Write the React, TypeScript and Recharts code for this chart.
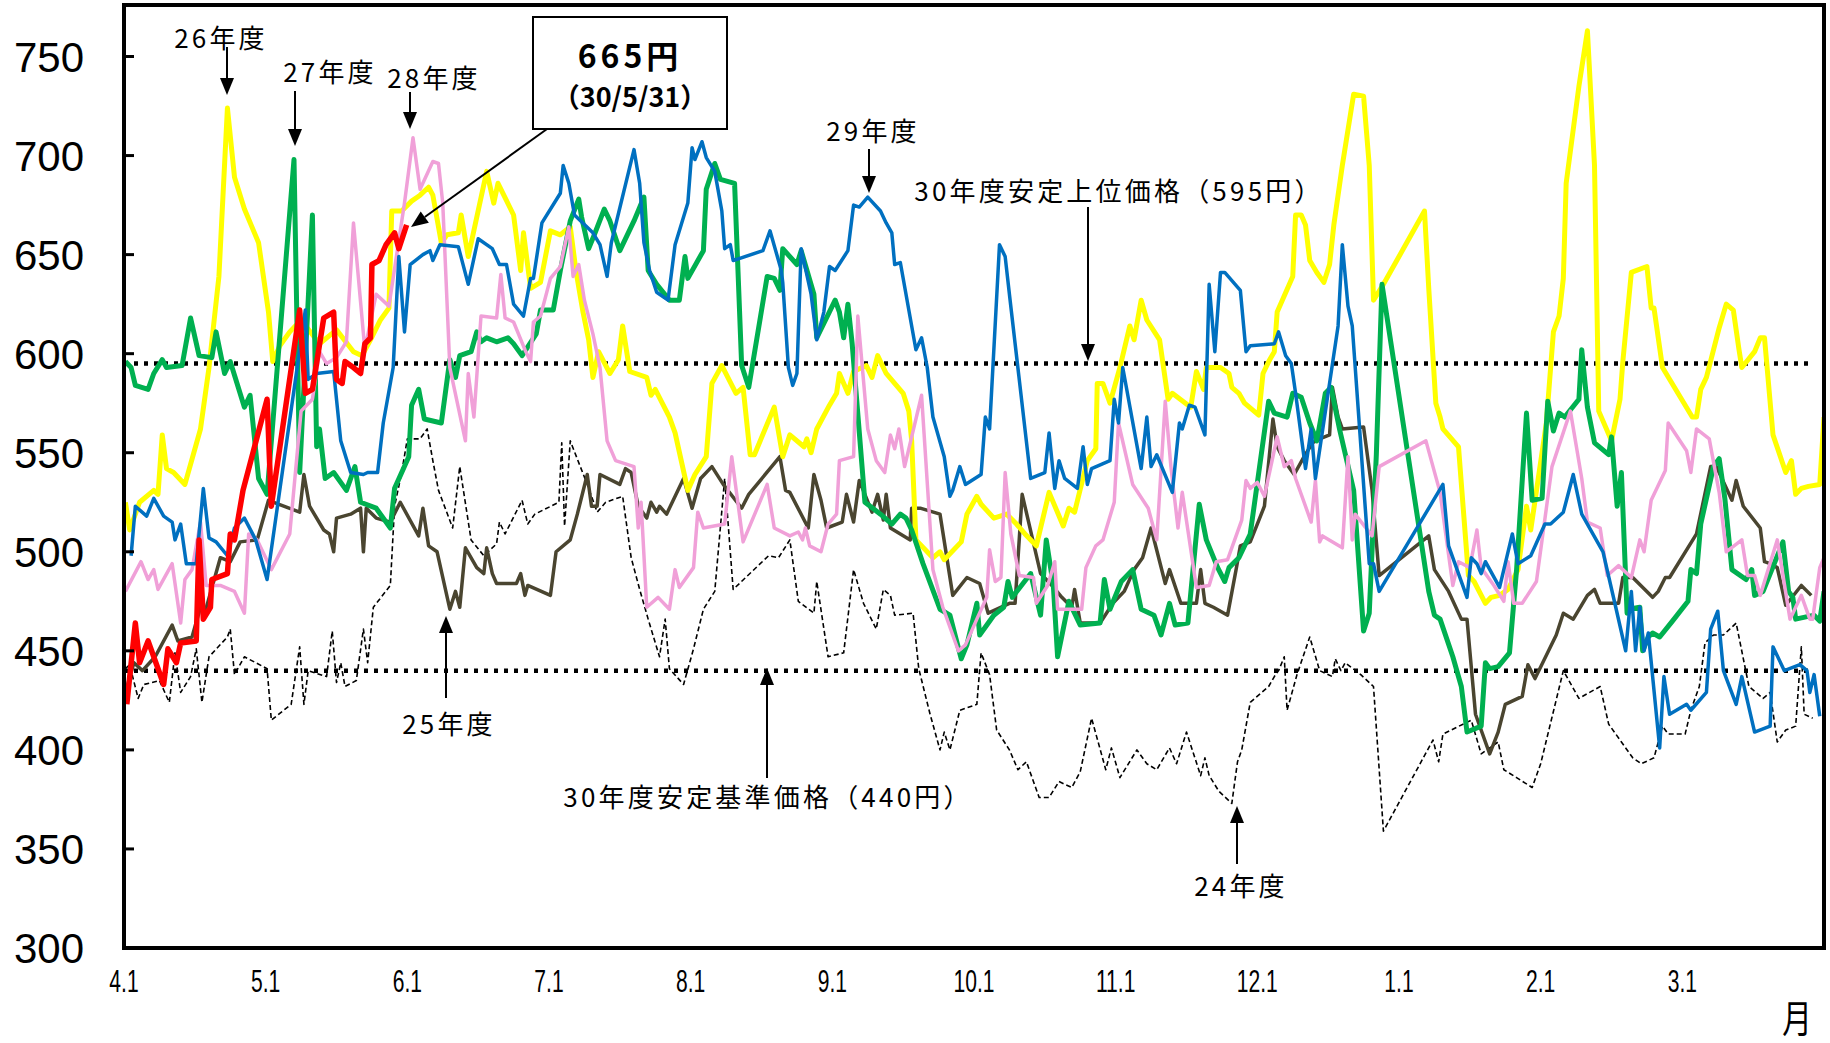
import { LineChart, Line, XAxis, YAxis, ReferenceLine } from "recharts";

// x = months elapsed since 4/1 (0..12), y = price (円)
const MONTH_LABELS = ["4.1", "5.1", "6.1", "7.1", "8.1", "9.1", "10.1", "11.1", "12.1", "1.1", "2.1", "3.1"];
const MONTH_TICKS = [0, 1, 2, 3, 4, 5, 6, 7, 8, 9, 10, 11];
const Y_TICKS = [300, 350, 400, 450, 500, 550, 600, 650, 700, 750];
const UPPER_PRICE = 595;
const BASE_PRICE = 440;

const fy24 = [[0.01,441],[0.04,443],[0.10,426],[0.14,433],[0.25,435],[0.32,424],[0.36,449],[0.40,429],[0.47,437],[0.51,451],[0.55,424],[0.60,447],[0.73,457],[0.75,461],[0.78,438],[0.85,447],[1.01,441],[1.04,415],[1.18,423],[1.24,452],[1.27,423],[1.30,440],[1.43,437],[1.47,460],[1.50,434],[1.53,444],[1.56,432],[1.64,435],[1.69,461],[1.72,444],[1.76,472],[1.88,483],[1.91,523],[1.96,540],[2.00,557],[2.09,557],[2.14,562],[2.18,546],[2.22,531],[2.32,512],[2.37,543],[2.45,506],[2.54,498],[2.63,504],[2.65,515],[2.69,509],[2.81,526],[2.85,514],[2.90,519],[3.07,525],[3.09,555],[3.11,513],[3.15,556],[3.27,534],[3.34,520],[3.40,525],[3.52,528],[3.58,497],[3.64,481],[3.70,466],[3.78,447],[3.82,466],[3.85,441],[3.95,433],[4.02,451],[4.09,471],[4.17,480],[4.24,537],[4.30,481],[4.55,498],[4.62,497],[4.70,506],[4.76,475],[4.87,469],[4.89,485],[4.97,447],[5.08,449],[5.15,491],[5.22,474],[5.31,461],[5.36,481],[5.41,478],[5.44,468],[5.57,469],[5.61,441],[5.69,418],[5.76,400],[5.79,409],[5.83,400],[5.90,420],[6.02,423],[6.05,449],[6.11,438],[6.16,410],[6.25,400],[6.31,390],[6.37,394],[6.46,376],[6.53,376],[6.60,384],[6.69,381],[6.75,389],[6.83,416],[6.93,390],[6.97,401],[7.03,386],[7.15,400],[7.22,393],[7.29,390],[7.38,401],[7.43,393],[7.50,409],[7.60,387],[7.63,396],[7.66,387],[7.73,379],[7.82,373],[7.86,394],[7.89,400],[7.95,424],[8.08,432],[8.12,437],[8.15,440],[8.19,447],[8.21,420],[8.28,438],[8.37,457],[8.44,440],[8.53,437],[8.55,446],[8.59,440],[8.62,444],[8.73,438],[8.82,432],[8.89,359],[9.24,405],[9.28,394],[9.31,408],[9.51,415],[9.58,398],[9.70,404],[9.74,390],[9.83,386],[9.94,381],[10.00,393],[10.16,440],[10.27,426],[10.42,432],[10.48,413],[10.57,404],[10.65,396],[10.71,393],[10.80,396],[10.86,412],[10.90,408],[11.02,408],[11.06,420],[11.12,432],[11.16,454],[11.22,458],[11.29,458],[11.38,464],[11.47,432],[11.57,426],[11.62,429],[11.67,404],[11.73,410],[11.80,412],[11.84,452],[11.86,418],[11.92,416]];

const fy25 = [[0.01,429],[0.07,444],[0.13,440],[0.22,447],[0.34,463],[0.38,455],[0.48,457],[0.54,472],[0.57,469],[0.68,497],[0.75,495],[0.82,505],[0.94,506],[1.02,526],[1.24,520],[1.27,539],[1.31,523],[1.41,511],[1.45,509],[1.48,500],[1.50,517],[1.60,519],[1.67,522],[1.69,500],[1.71,522],[1.78,517],[1.88,515],[1.95,525],[2.08,508],[2.11,522],[2.15,503],[2.21,500],[2.30,471],[2.34,480],[2.37,472],[2.41,502],[2.49,492],[2.54,489],[2.56,502],[2.60,489],[2.63,484],[2.77,484],[2.80,489],[2.83,478],[2.85,483],[3.01,478],[3.05,500],[3.15,506],[3.20,519],[3.27,539],[3.30,523],[3.34,523],[3.36,539],[3.50,534],[3.54,542],[3.58,540],[3.63,523],[3.69,517],[3.72,525],[3.76,520],[3.78,523],[3.83,519],[3.95,537],[4.01,522],[4.07,537],[4.15,543],[4.23,534],[4.36,522],[4.41,529],[4.63,548],[4.67,531],[4.70,530],[4.83,512],[4.87,539],[4.92,526],[4.96,512],[5.07,515],[5.10,529],[5.15,515],[5.19,536],[5.28,520],[5.32,529],[5.36,516],[5.38,529],[5.41,512],[5.55,506],[5.56,522],[5.62,522],[5.76,519],[5.85,478],[5.95,487],[6.04,484],[6.10,469],[6.25,474],[6.29,474],[6.34,529],[6.47,489],[6.55,483],[6.62,477],[6.69,472],[6.71,481],[6.75,464],[6.89,464],[6.98,474],[7.06,480],[7.13,491],[7.19,497],[7.25,512],[7.35,484],[7.38,491],[7.46,474],[7.57,474],[7.60,491],[7.63,474],[7.69,472],[7.79,468],[7.85,491],[7.88,503],[7.95,505],[8.05,523],[8.11,567],[8.14,553],[8.19,546],[8.26,539],[8.33,548],[8.39,555],[8.44,557],[8.51,559],[8.53,583],[8.57,568],[8.60,562],[8.75,563],[8.81,531],[8.86,488],[9.21,508],[9.25,491],[9.35,480],[9.44,466],[9.48,466],[9.54,418],[9.64,398],[9.70,409],[9.75,423],[9.87,427],[9.91,443],[9.96,436],[10.11,458],[10.16,469],[10.23,466],[10.33,478],[10.38,481],[10.42,474],[10.55,474],[10.58,487],[10.65,487],[10.79,477],[10.83,480],[10.88,487],[10.91,487],[11.10,509],[11.20,543],[11.24,543],[11.35,526],[11.38,536],[11.43,523],[11.55,512],[11.58,495],[11.62,494],[11.67,492],[11.73,473],[11.84,483],[11.91,478]];

const fy26 = [[0.01,525],[0.04,511],[0.11,525],[0.21,531],[0.24,529],[0.27,559],[0.30,542],[0.35,540],[0.43,534],[0.54,562],[0.60,593],[0.67,639],[0.73,724],[0.78,689],[0.85,673],[0.95,656],[1.02,621],[1.05,596],[1.10,604],[1.17,611],[1.25,617],[1.38,605],[1.50,612],[1.62,601],[1.68,599],[1.74,607],[1.81,617],[1.87,623],[1.89,672],[1.96,672],[2.03,677],[2.09,680],[2.15,684],[2.18,680],[2.24,656],[2.28,660],[2.36,661],[2.38,670],[2.43,649],[2.56,692],[2.61,676],[2.64,686],[2.75,670],[2.80,642],[2.82,661],[2.87,633],[2.94,636],[3.01,662],[3.08,660],[3.15,664],[3.19,642],[3.24,621],[3.28,607],[3.31,588],[3.35,601],[3.43,590],[3.49,597],[3.52,614],[3.57,591],[3.69,588],[3.72,579],[3.75,582],[3.85,568],[3.89,560],[3.98,531],[4.03,539],[4.11,548],[4.15,585],[4.22,594],[4.32,580],[4.37,583],[4.42,549],[4.45,549],[4.59,573],[4.65,548],[4.70,559],[4.80,553],[4.82,557],[4.85,550],[4.89,562],[4.98,574],[5.03,580],[5.05,590],[5.11,580],[5.15,591],[5.24,594],[5.28,588],[5.32,599],[5.38,590],[5.50,580],[5.54,571],[5.56,556],[5.59,506],[5.71,497],[5.76,500],[5.79,496],[5.91,505],[5.95,519],[6.02,528],[6.05,524],[6.14,517],[6.23,519],[6.30,514],[6.36,509],[6.44,503],[6.53,530],[6.63,513],[6.67,522],[6.71,520],[6.80,546],[6.86,552],[6.87,585],[6.91,585],[6.96,575],[7.03,593],[7.10,614],[7.13,607],[7.18,627],[7.22,617],[7.31,607],[7.37,577],[7.40,580],[7.53,573],[7.57,591],[7.62,582],[7.64,593],[7.74,593],[7.80,590],[7.82,583],[7.87,580],[7.91,575],[8.01,569],[8.04,590],[8.08,596],[8.12,601],[8.14,621],[8.25,639],[8.27,670],[8.31,670],[8.34,665],[8.37,647],[8.42,641],[8.47,636],[8.51,645],[8.54,665],[8.60,695],[8.68,731],[8.75,730],[8.79,695],[8.82,627],[8.89,635],[9.18,672],[9.21,633],[9.26,575],[9.29,568],[9.31,562],[9.42,553],[9.49,488],[9.53,485],[9.61,474],[9.65,477],[9.71,478],[9.77,481],[9.84,491],[9.90,523],[9.93,511],[10.04,565],[10.09,611],[10.13,619],[10.16,638],[10.18,686],[10.27,735],[10.33,763],[10.38,695],[10.41,571],[10.50,556],[10.56,577],[10.58,596],[10.64,641],[10.75,644],[10.78,623],[10.80,623],[10.86,593],[11.07,568],[11.10,568],[11.13,582],[11.17,588],[11.26,613],[11.31,625],[11.36,622],[11.40,602],[11.42,593],[11.51,601],[11.55,608],[11.58,608],[11.64,559],[11.73,540],[11.77,546],[11.80,529],[11.84,532],[11.89,533],[11.97,534],[12.00,568]];

const fy27 = [[0.01,596],[0.05,593],[0.08,584],[0.17,582],[0.21,590],[0.27,597],[0.30,593],[0.41,594],[0.47,618],[0.53,599],[0.62,598],[0.65,611],[0.71,590],[0.75,596],[0.85,573],[0.89,579],[0.95,537],[1.01,529],[1.20,698],[1.24,540],[1.33,670],[1.36,553],[1.38,562],[1.42,537],[1.48,540],[1.57,531],[1.63,543],[1.67,525],[1.78,522],[1.88,512],[1.91,532],[2.01,548],[2.03,574],[2.08,582],[2.12,567],[2.24,565],[2.30,597],[2.34,588],[2.37,599],[2.45,601],[2.49,611],[2.52,606],[2.56,608],[2.63,606],[2.71,608],[2.75,605],[2.81,599],[2.91,610],[2.94,622],[3.03,622],[3.08,642],[3.15,667],[3.21,678],[3.23,669],[3.28,653],[3.32,660],[3.39,673],[3.43,667],[3.50,652],[3.60,667],[3.67,679],[3.70,642],[3.76,635],[3.85,627],[3.92,627],[3.96,649],[3.98,638],[4.09,652],[4.11,683],[4.17,696],[4.21,688],[4.31,686],[4.36,594],[4.41,583],[4.54,639],[4.59,638],[4.63,632],[4.65,653],[4.75,645],[4.78,652],[4.87,630],[4.89,608],[5.02,627],[5.05,621],[5.08,608],[5.11,625],[5.14,605],[5.23,525],[5.34,519],[5.42,514],[5.48,519],[5.52,517],[5.56,511],[5.64,494],[5.76,471],[5.83,468],[5.91,446],[5.95,453],[6.02,474],[6.04,458],[6.14,468],[6.21,472],[6.24,485],[6.27,477],[6.40,489],[6.47,468],[6.51,506],[6.56,483],[6.59,447],[6.67,475],[6.75,463],[6.89,464],[6.92,486],[6.96,471],[7.04,485],[7.12,491],[7.18,471],[7.27,468],[7.32,458],[7.38,474],[7.42,463],[7.51,464],[7.59,524],[7.64,506],[7.72,492],[7.77,485],[7.80,492],[7.87,497],[7.95,509],[8.08,576],[8.12,570],[8.21,568],[8.25,580],[8.31,578],[8.37,565],[8.42,556],[8.48,580],[8.52,583],[8.58,562],[8.68,531],[8.75,460],[8.79,469],[8.84,549],[8.88,635],[9.21,480],[9.25,468],[9.29,466],[9.38,447],[9.44,432],[9.48,409],[9.58,412],[9.61,444],[9.64,441],[9.70,442],[9.78,449],[9.83,491],[9.90,570],[9.94,526],[10.01,527],[10.05,576],[10.09,561],[10.13,570],[10.17,568],[10.27,577],[10.29,602],[10.33,573],[10.38,555],[10.48,549],[10.50,558],[10.54,523],[10.57,540],[10.61,469],[10.62,471],[10.70,472],[10.72,450],[10.76,457],[10.79,459],[10.84,457],[10.93,465],[11.04,475],[11.06,491],[11.10,489],[11.13,514],[11.22,543],[11.26,547],[11.30,527],[11.35,491],[11.45,486],[11.49,491],[11.51,478],[11.57,480],[11.71,505],[11.75,480],[11.78,477],[11.80,466],[11.93,468],[11.97,465],[12.00,480]];

const fy28 = [[0.01,480],[0.12,495],[0.17,486],[0.21,491],[0.24,481],[0.34,494],[0.40,464],[0.43,486],[0.48,491],[0.54,515],[0.58,483],[0.68,483],[0.78,480],[0.85,469],[0.88,509],[0.94,506],[1.04,491],[1.17,509],[1.25,571],[1.33,577],[1.38,601],[1.43,595],[1.50,598],[1.57,606],[1.62,666],[1.70,602],[1.78,630],[1.87,624],[1.98,676],[2.04,709],[2.09,683],[2.18,697],[2.22,696],[2.25,676],[2.30,593],[2.41,556],[2.43,590],[2.47,568],[2.52,619],[2.63,618],[2.66,640],[2.69,618],[2.75,616],[2.83,602],[2.87,596],[2.89,616],[2.94,619],[3.01,638],[3.08,644],[3.14,664],[3.17,639],[3.21,645],[3.25,627],[3.31,610],[3.36,593],[3.41,556],[3.47,546],[3.60,543],[3.63,512],[3.65,525],[3.69,472],[3.77,477],[3.85,471],[3.89,491],[3.92,482],[4.02,492],[4.05,520],[4.09,512],[4.24,514],[4.29,548],[4.37,505],[4.54,534],[4.59,512],[4.70,508],[4.76,510],[4.79,506],[4.81,512],[4.84,503],[4.92,500],[4.97,514],[5.03,519],[5.05,546],[5.15,548],[5.18,619],[5.25,562],[5.31,546],[5.37,540],[5.41,559],[5.44,552],[5.47,562],[5.51,543],[5.63,579],[5.71,491],[5.78,472],[5.89,450],[5.94,453],[6.02,466],[6.09,477],[6.11,501],[6.15,485],[6.19,487],[6.22,540],[6.26,509],[6.32,488],[6.42,487],[6.44,474],[6.52,483],[6.57,495],[6.59,471],[6.76,471],[6.79,492],[6.86,503],[6.91,506],[6.99,525],[7.02,565],[7.12,534],[7.23,522],[7.29,506],[7.35,576],[7.39,543],[7.44,512],[7.47,530],[7.57,482],[7.66,483],[7.71,495],[7.79,496],[7.89,516],[7.92,536],[7.95,532],[8.00,535],[8.05,528],[8.14,558],[8.19,543],[8.24,546],[8.27,537],[8.38,515],[8.41,536],[8.44,505],[8.46,508],[8.60,502],[8.64,548],[8.67,506],[8.69,519],[8.81,508],[8.86,543],[9.19,556],[9.29,530],[9.33,509],[9.38,483],[9.42,495],[9.50,492],[9.55,511],[9.58,492],[9.67,483],[9.74,475],[9.77,495],[9.81,474],[9.87,474],[9.97,485],[10.08,543],[10.21,571],[10.29,537],[10.33,515],[10.42,512],[10.47,488],[10.55,493],[10.64,487],[10.70,506],[10.73,500],[10.78,526],[10.88,541],[10.90,565],[11.03,551],[11.06,540],[11.10,562],[11.19,557],[11.26,530],[11.31,500],[11.42,506],[11.46,488],[11.51,488],[11.55,478],[11.67,506],[11.76,466],[11.80,472],[11.84,478],[11.90,466],[11.92,466],[11.97,492],[12.00,497]];

const fy29 = [[0.05,498],[0.08,523],[0.16,518],[0.21,527],[0.28,518],[0.34,515],[0.36,506],[0.40,514],[0.44,494],[0.51,494],[0.56,532],[0.60,507],[0.65,505],[0.73,498],[0.78,512],[0.85,517],[0.93,506],[1.01,486],[1.28,622],[1.30,587],[1.36,590],[1.48,591],[1.53,556],[1.60,540],[1.69,539],[1.72,540],[1.79,540],[1.83,565],[1.90,593],[1.94,649],[1.98,611],[2.02,645],[2.11,650],[2.16,652],[2.18,647],[2.23,655],[2.36,654],[2.43,635],[2.50,658],[2.60,653],[2.65,645],[2.70,645],[2.75,625],[2.82,619],[2.87,638],[2.89,638],[2.95,666],[3.08,681],[3.10,695],[3.14,686],[3.18,670],[3.31,661],[3.36,655],[3.41,639],[3.44,656],[3.60,703],[3.64,686],[3.67,656],[3.71,642],[3.76,631],[3.84,627],[3.89,655],[3.98,676],[4.01,704],[4.03,698],[4.08,707],[4.11,699],[4.17,692],[4.22,672],[4.24,653],[4.28,655],[4.30,647],[4.51,652],[4.56,662],[4.64,642],[4.65,636],[4.69,593],[4.72,584],[4.75,590],[4.78,653],[4.85,630],[4.89,607],[4.94,621],[4.98,644],[5.02,642],[5.11,652],[5.15,675],[5.19,674],[5.25,679],[5.34,672],[5.38,666],[5.42,661],[5.44,645],[5.48,646],[5.59,602],[5.63,608],[5.67,593],[5.71,568],[5.79,548],[5.83,528],[5.85,531],[5.90,543],[5.94,534],[6.05,539],[6.08,568],[6.11,562],[6.18,655],[6.22,649],[6.25,630],[6.40,537],[6.50,540],[6.53,560],[6.57,532],[6.60,546],[6.64,537],[6.73,532],[6.77,553],[6.80,534],[6.83,542],[6.96,546],[6.99,577],[7.02,565],[7.05,593],[7.18,542],[7.22,568],[7.25,543],[7.29,549],[7.40,530],[7.45,565],[7.47,562],[7.52,574],[7.56,573],[7.63,559],[7.66,635],[7.70,601],[7.74,641],[7.77,641],[7.88,632],[7.92,601],[7.95,604],[8.12,605],[8.15,611],[8.20,599],[8.24,595],[8.27,580],[8.34,542],[8.38,562],[8.41,537],[8.57,614],[8.60,655],[8.64,624],[8.67,614],[8.79,494],[8.82,494],[8.86,480],[9.31,534],[9.35,503],[9.48,477],[9.51,497],[9.55,494],[9.58,489],[9.61,495],[9.71,482],[9.80,509],[9.84,494],[9.93,498],[10.03,514],[10.07,514],[10.16,520],[10.23,539],[10.29,519],[10.44,500],[10.53,472],[10.60,450],[10.64,480],[10.67,450],[10.70,472],[10.73,450],[10.76,459],[10.84,401],[10.87,437],[10.91,418],[11.03,423],[11.06,420],[11.17,429],[11.20,461],[11.25,470],[11.29,440],[11.38,423],[11.42,437],[11.51,409],[11.62,412],[11.64,452],[11.72,440],[11.83,443],[11.88,440],[11.90,429],[11.93,438],[11.97,417]];

const fy30 = [[0.02,423],[0.08,464],[0.11,444],[0.17,455],[0.28,433],[0.31,451],[0.37,444],[0.40,454],[0.51,455],[0.53,506],[0.56,466],[0.61,472],[0.62,486],[0.73,489],[0.75,509],[0.78,506],[0.84,531],[1.01,577],[1.04,523],[1.24,622],[1.28,580],[1.33,582],[1.41,618],[1.48,621],[1.50,587],[1.54,585],[1.56,596],[1.62,593],[1.67,590],[1.70,605],[1.74,608],[1.75,645],[1.80,647],[1.85,655],[1.91,661],[1.94,653],[1.995,665]];

const toPts = (arr: number[][]) => arr.map(([m, v]) => ({ m, v }));

const SERIES = [
  { key: "24", data: fy24, color: "#000000", width: 1.6, dash: "5 3" },
  { key: "25", data: fy25, color: "#4a4530", width: 3.5 },
  { key: "26", data: fy26, color: "#ffff00", width: 5 },
  { key: "27", data: fy27, color: "#00b050", width: 5 },
  { key: "28", data: fy28, color: "#f0a0d8", width: 3.5 },
  { key: "29", data: fy29, color: "#0070c0", width: 3.5 },
  { key: "30", data: fy30, color: "#ff0000", width: 5.5 },
];

const W = 1830;
const H = 1043;
const PLOT = { left: 124, top: 5, right: 1824, bottom: 948 };

const CJK = "'Noto Sans CJK JP', 'Noto Sans', sans-serif";
const LATIN = "'Liberation Sans', Arial, sans-serif";

const XTick = ({ x, y, payload }: any) => (
  <text
    x={x}
    y={y + 44}
    textAnchor="middle"
    fontSize={31}
    fontFamily={LATIN}
    fill="#000"
    transform={`translate(${x} 0) scale(0.68 1) translate(${-x} 0)`}
  >
    {MONTH_LABELS[payload.value]}
  </text>
);

const YTick = ({ x, y, payload }: any) => (
  <g>
    <line x1={x} x2={x + 10} y1={y} y2={y} stroke="#000" strokeWidth={3} />
    <text x={x - 40} y={y} dy="0.36em" textAnchor="end" fontSize={42} fontFamily={LATIN} fill="#000">
      {payload.value}
    </text>
  </g>
);

function Arrow({ x1, y1, x2, y2 }: { x1: number; y1: number; x2: number; y2: number }) {
  const a = Math.atan2(y2 - y1, x2 - x1);
  const len = 17;
  const half = 7;
  const bx = x2 - len * Math.cos(a);
  const by = y2 - len * Math.sin(a);
  const px = -Math.sin(a) * half;
  const py = Math.cos(a) * half;
  return (
    <g>
      <line x1={x1} y1={y1} x2={bx} y2={by} stroke="#000" strokeWidth={2} />
      <polygon points={`${x2},${y2} ${bx + px},${by + py} ${bx - px},${by - py}`} fill="#000" />
    </g>
  );
}

// annotation labels (pixel positions on the page)
const NOTES = [
  { text: "26年度", x: 221, y: 36, ax: 227, ay1: 47, ay2: 95 },
  { text: "27年度", x: 330, y: 70, ax: 295, ay1: 91, ay2: 146 },
  { text: "28年度", x: 434, y: 76, ax: 410, ay1: 92, ay2: 129 },
  { text: "29年度", x: 873, y: 129, ax: 869, ay1: 149, ay2: 193 },
  { text: "30年度安定上位価格（595円）", x: 1119, y: 189, ax: 1088, ay1: 207, ay2: 361 },
  { text: "25年度", x: 449, y: 722, ax: 446, ay1: 698, ay2: 616 },
  { text: "30年度安定基準価格（440円）", x: 768, y: 795, ax: 767, ay1: 778, ay2: 668 },
  { text: "24年度", x: 1241, y: 884, ax: 1237, ay1: 864, ay2: 806 },
];

export default function App() {
  return (
    <div style={{ position: "absolute", left: 0, top: 0, width: W, height: H, background: "#fff" }}>
      <LineChart width={W} height={H} margin={{ top: PLOT.top, right: W - PLOT.right, bottom: 0, left: 0 }}>
        <XAxis
          type="number"
          dataKey="m"
          domain={[0, 12]}
          ticks={MONTH_TICKS}
          interval={0}
          height={H - PLOT.bottom}
          tick={<XTick />}
          tickLine={false}
          tickSize={0}
          tickMargin={0}
          axisLine={false}
          allowDataOverflow
        />
        <YAxis
          type="number"
          domain={[300, 776]}
          ticks={Y_TICKS}
          interval={0}
          width={PLOT.left}
          tick={<YTick />}
          tickLine={false}
          tickSize={0}
          tickMargin={0}
          axisLine={false}
          allowDataOverflow
        />
        <ReferenceLine
          segment={[{ x: 0, y: UPPER_PRICE }, { x: 11.89, y: UPPER_PRICE }]}
          stroke="#000"
          strokeWidth={4.5}
          strokeDasharray="4 6"
        />
        <ReferenceLine
          segment={[{ x: 0, y: BASE_PRICE }, { x: 11.89, y: BASE_PRICE }]}
          stroke="#000"
          strokeWidth={4.5}
          strokeDasharray="4 6"
        />
        {SERIES.map((s) => (
          <Line
            key={s.key}
            data={toPts(s.data)}
            dataKey="v"
            type="linear"
            stroke={s.color}
            strokeWidth={s.width}
            strokeDasharray={s.dash}
            strokeLinejoin="round"
            dot={false}
            activeDot={false}
            isAnimationActive={false}
          />
        ))}
      </LineChart>

      <svg width={W} height={H} style={{ position: "absolute", left: 0, top: 0, pointerEvents: "none" }}>
        <rect
          x={PLOT.left}
          y={PLOT.top}
          width={PLOT.right - PLOT.left}
          height={PLOT.bottom - PLOT.top}
          fill="none"
          stroke="#000"
          strokeWidth={4}
        />
        {NOTES.map((n) => (
          <g key={n.text}>
            <text
              x={n.x}
              y={n.y}
              textAnchor="middle"
              dominantBaseline="central"
              fontSize={26}
              letterSpacing={3.2}
              fontFamily={CJK}
              fill="#000"
            >
              {n.text}
            </text>
            <Arrow x1={n.ax} y1={n.ay1} x2={n.ax} y2={n.ay2} />
          </g>
        ))}
        <rect x={533} y={17} width={194} height={112} fill="#fff" stroke="#000" strokeWidth={2} />
        <text x={630} y={54} textAnchor="middle" dominantBaseline="central" fontSize={32} fontWeight="bold" letterSpacing={4} fontFamily={CJK}>
          665円
        </text>
        <text x={630} y={95} textAnchor="middle" dominantBaseline="central" fontSize={27} fontWeight="bold" fontFamily={CJK}>
          （30/5/31）
        </text>
        <Arrow x1={547} y1={129} x2={411} y2={227} />
        <text
          x={1797}
          y={1032}
          textAnchor="middle"
          fontSize={38}
          fontFamily={CJK}
          transform="translate(1797 0) scale(0.78 1) translate(-1797 0)"
        >
          月
        </text>
      </svg>
    </div>
  );
}
